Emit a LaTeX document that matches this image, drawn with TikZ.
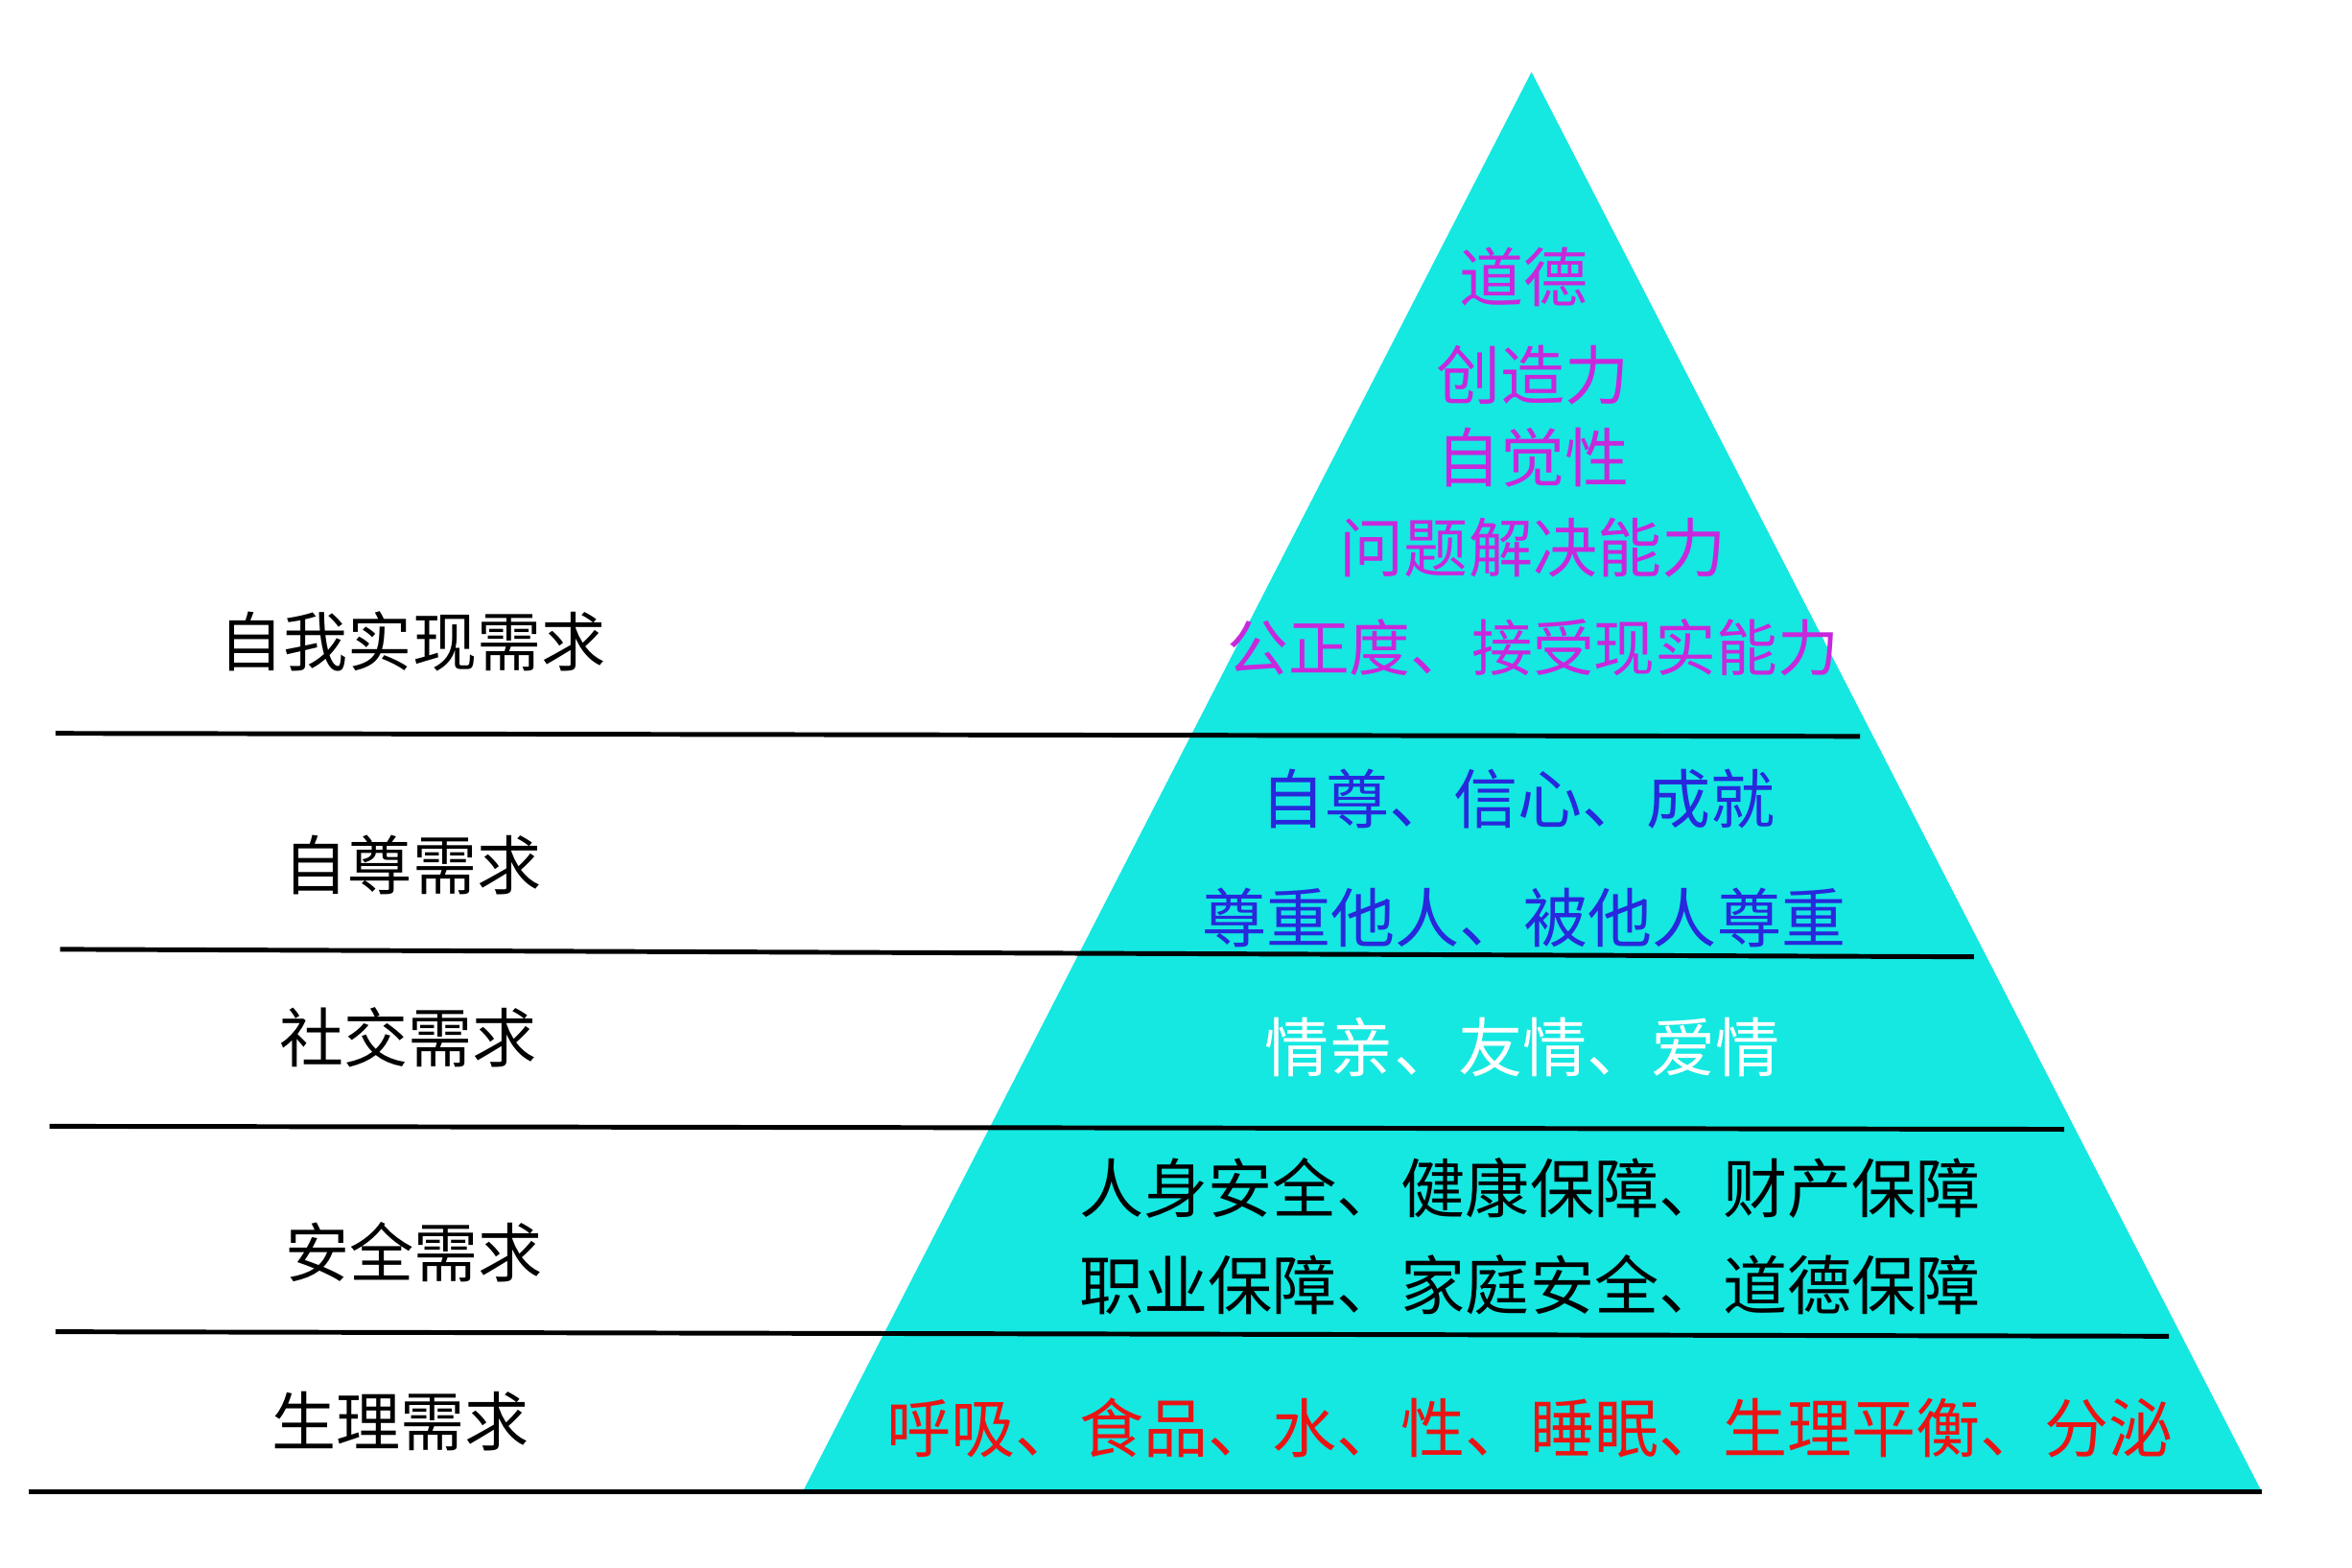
\documentclass[tikz,border=0pt]{standalone}
\usepackage{fontspec}
\newfontfamily\cjk{Noto Sans CJK SC}
\definecolor{cyanp}{RGB}{20,232,225}
\definecolor{mag}{RGB}{200,40,220}
\definecolor{blu}{RGB}{40,40,220}
\definecolor{rd}{RGB}{235,20,20}
\begin{document}
\begin{tikzpicture}[x=0.01cm,y=-0.01cm,
  txt/.style={font=\cjk\fontsize{12.2pt}{14pt}\selectfont, inner sep=0pt},
  sep/.style={line width=0.9pt}]
\useasboundingbox (0,0) rectangle (1568,1045);
\fill[cyanp] (1021,48) -- (535,995) -- (1508,995) -- cycle;
\coordinate (a1) at (37,489); \coordinate (b1) at (1240,491);
\coordinate (a2) at (40,633); \coordinate (b2) at (1316,638);
\coordinate (a3) at (33,751); \coordinate (b3) at (1376,753);
\coordinate (a4) at (37,888); \coordinate (b4) at (1446,891);
\coordinate (a5) at (19,995); \coordinate (b5) at (1508,995);
\foreach \i in {1,...,5} \draw[sep] (a\i) -- (b\i);
\node[txt] (l1) at (275,428) {自我实现需求};
\node[txt] (l2) at (275,577) {自尊需求};
\node[txt] (l3) at (272,692) {社交需求};
\node[txt] (l4) at (276,835) {安全需求};
\node[txt] (l5) at (267,948) {生理需求};
\node[txt,text=mag] (t1) at (1016,185) {道德};
\node[txt,text=mag] (t2) at (1022,250) {创造力};
\node[txt,text=mag] (t3) at (1022,305) {自觉性};
\node[txt,text=mag] (t4) at (1022,365) {问题解决能力};
\node[txt,text=mag,font=\cjk\fontsize{11.6pt}{14pt}\selectfont] (t5) at (1022,432) {公正度、接受现实能力};
\node[txt,text=blu] (t6) at (1012,533) {自尊、信心、成就};
\node[txt,text=blu] (t7) at (1016,612) {尊重他人、被他人尊重};
\node[txt,text=white] (t8) at (1015,698) {情亲、友情、爱情};
\node[txt] (t9) at (1020,792) {人身安全、健康保障、财产保障};
\node[txt] (t10) at (1020,857) {职业保障、家庭安全、道德保障};
\node[txt,text=rd] (t11) at (1020,952) {呼吸、食品、水、性、睡眠、生理平衡、分泌};
\end{tikzpicture}
\end{document}
